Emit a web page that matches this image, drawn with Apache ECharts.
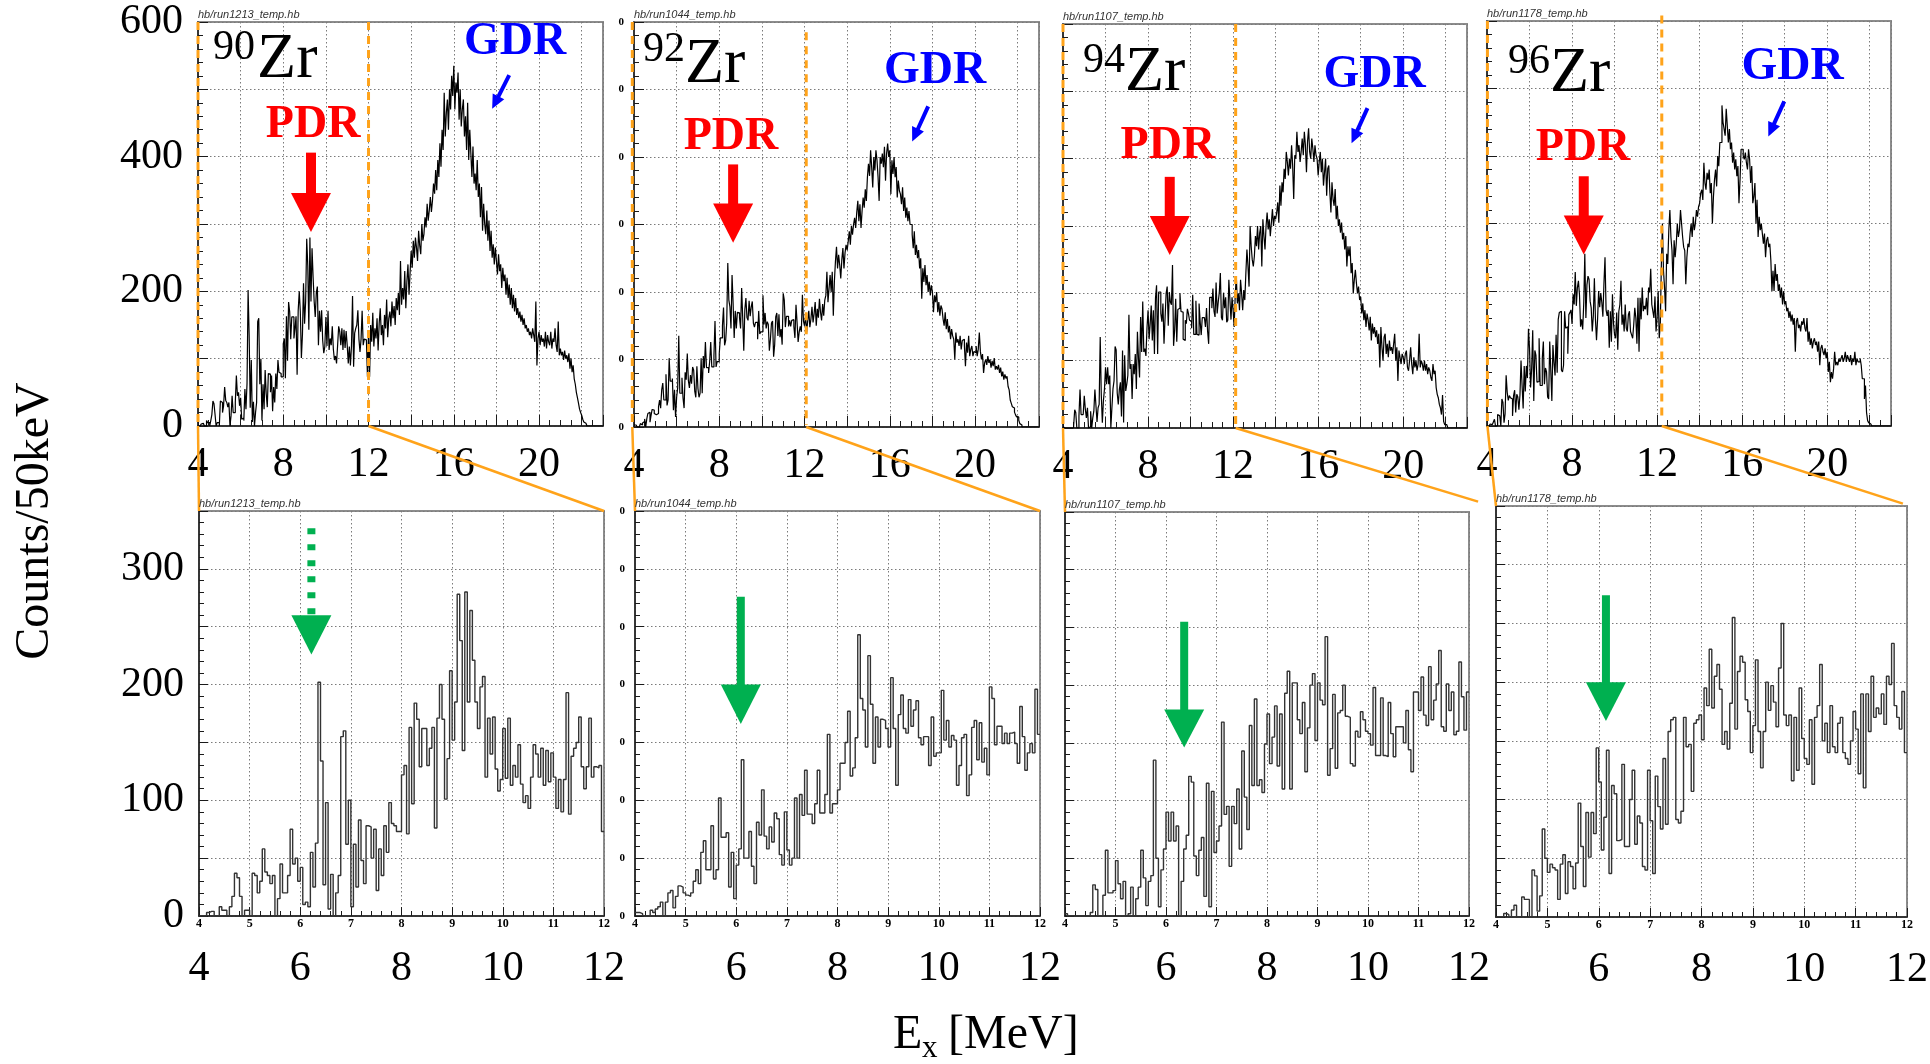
<!DOCTYPE html>
<html>
<head>
<meta charset="utf-8">
<title>Zr isotopes: E1 strength spectra</title>
<script src="https://cdn.jsdelivr.net/npm/echarts@6/dist/echarts.min.js"></script>
<style>
  html, body { margin: 0; padding: 0; background: #fff; }
  #chart { width: 1930px; height: 1064px; }
</style>
</head>
<body>
<div id="chart"></div>
<script>
// ---------------------------------------------------------------
// Spectra: counts per 50 keV bin, first bin starts at 4.00 MeV.
// "Low" arrays cover 4.00-11.95 MeV, "High" arrays 12.00-22.95 MeV.
// ---------------------------------------------------------------
const binStart = 4.0;
const binWidth = 0.05;

const isotopes = ['90', '92', '94', '96'];
const runFiles = ['hb/run1213_temp.hb', 'hb/run1044_temp.hb', 'hb/run1107_temp.hb', 'hb/run1178_temp.hb'];

const topXTickLabels = [4, 8, 12, 16, 20];
const topYTickLabels = [0, 200, 400, 600];
const lowXSmallLabels = [4, 5, 6, 7, 8, 9, 10, 11, 12];
const lowXBigLabelsFirst = [4, 6, 8, 10, 12];
const lowXBigLabels = [6, 8, 10, 12];
const lowYTickLabels = [0, 100, 200, 300];

const zr90Low = [
  0,0,0,3,4,4,0,0,8,5, 5,0,8,17,37,33,17,0,5,5,
  0,37,35,20,30,58,38,35,28,35, 0,15,45,20,20,35,75,45,50,30,
  42,10,12,8,55,25,63,202,134,27, 98,6,36,0,20,35,155,160,62,100,
  8,62,25,83,48,28,78,77,50,75, 22,58,35,78,55,98,80,78,73,73,
  122,130,71,163,97,184,170,129,162,162, 130,145,163,76,171,200,170,101,136,212,
  152,185,278,238,143,280,185,264,221,185, 162,198,207,120,171,140,172,127,108,118,
  162,119,171,113,130,120,148,114,98,104, 93,120,148,140,120,145,113,143,116,141,
  120,93,118,90,118,193,88,138,145,150, 172,129,110,129,171,120,129,128,130,73
];
const zr90High = [
  140,73,150,125,168,118,145,130,160,112, 152,175,135,150,120,165,145,188,132,160,
  170,148,185,160,178,150,190,172,198,165, 245,180,205,188,230,175,215,240,195,228,
  260,235,275,250,280,265,245,290,268,255, 300,275,285,310,295,330,305,320,340,318,
  335,360,345,380,350,395,370,420,385,440, 410,495,430,465,485,440,500,470,520,490,
  535,470,510,495,525,455,500,445,470,485, 430,460,410,480,395,440,405,370,415,360,
  375,350,395,340,360,310,355,290,330,300, 285,320,275,305,260,290,250,270,240,265,
  245,225,255,230,240,205,235,215,225,195, 220,190,210,180,205,175,195,170,190,165,
  175,160,170,155,165,150,160,145,150,140, 145,135,140,130,145,135,125,185,90,130,
  140,120,135,125,130,118,140,115,135,125, 120,140,115,130,125,145,120,110,155,105,
  115,105,110,98,112,100,105,95,108,85, 100,80,90,70,62,50,42,34,25,20,
  16,10,6,4,2,0,0,0,0,0, 0,0,0,0,0,0,0,0,0,0
];

const zr92Low = [
  3,3,2,0,0,0,5,3,6,8, 12,0,12,20,22,7,17,26,25,20,
  18,17,20,30,40,28,55,65,40,40, 78,32,40,102,68,68,72,25,55,15,
  44,58,135,50,50,73,43,28,81,70, 109,69,58,77,64,89,84,53,44,90,
  57,44,50,102,50,105,87,126,88,88, 80,97,126,89,89,105,157,89,97,97,
  109,132,132,150,177,121,128,154,243,188, 178,146,225,183,132,172,146,170,169,162,
  146,206,162,113,174,191,162,158,187,164, 178,186,154,148,155,155,130,172,138,141,
  141,195,152,169,146,156,152,113,130,154, 157,104,122,163,169,135,167,133,145,122,
  198,188,148,164,164,149,158,149,158,159, 149,132,181,155,126,141,149,141,196,157
];
const zr92High = [
  150,165,140,158,172,148,160,178,155,168, 185,150,175,162,190,170,158,182,165,188,
  195,230,185,205,225,200,230,165,215,245, 267,235,255,240,220,248,265,235,258,270,
  262,275,290,270,298,285,300,310,295,318, 335,305,330,295,320,340,325,352,335,370,
  390,372,410,385,355,400,380,410,395,370, 335,400,390,405,385,415,365,405,420,400,
  410,345,395,375,400,370,385,340,365,350, 345,330,355,320,340,310,325,305,320,300,
  300,285,265,290,255,270,250,262,235,250, 190,235,215,240,210,225,200,215,195,210,
  200,170,195,185,200,170,185,165,180,175, 160,150,170,145,160,140,150,130,145,135,
  130,100,140,125,130,120,135,115,128,130, 120,90,125,110,135,105,115,120,105,112,
  110,120,105,115,140,112,100,108,80,95, 100,92,105,95,100,88,98,90,102,85,
  90,85,92,80,88,75,82,70,78,72, 75,60,55,40,35,30,28,22,18,15,
  15,10,5,3,0,0,0,0,0,0, 0,0,0,0,0,0,0,0,0,0
];

const zr94Low = [
  2,0,0,0,0,0,0,0,0,0, 3,27,23,0,0,18,57,20,20,22,
  48,28,15,30,0,2,25,0,15,25, 57,33,9,30,35,135,50,8,40,58,
  90,65,90,65,78,0,30,58,70,121, 116,52,35,57,68,17,115,8,108,55,
  65,78,168,88,95,43,95,80,110,58, 143,103,75,165,113,188,113,118,107,149,
  175,132,155,182,130,175,110,193,212,110, 202,202,170,158,185,125,163,200,210,152,
  202,187,183,242,122,145,192,128,176,178, 200,173,172,132,130,160,155,177,170,160,
  158,148,198,139,139,189,139,138,185,158, 138,164,164,164,150,178,144,125,194,194,
  178,207,174,165,216,170,187,201,230,164, 160,201,178,194,157,160,220,190,161,194
];
const zr94High = [
  175,150,198,225,185,200,175,220,200,175, 205,190,230,265,240,210,300,270,250,240,
  255,285,270,300,265,290,300,240,310,285, 265,300,320,295,310,285,305,325,300,315,
  310,320,335,305,360,330,365,350,385,370, 410,395,375,400,385,420,390,340,405,400,
  440,410,420,395,410,430,405,440,420,380, 425,445,410,400,430,415,395,420,405,400,
  375,395,410,380,400,360,380,400,345,385, 390,350,320,365,340,330,355,310,330,300,
  310,290,305,280,290,265,285,240,270,255, 270,230,245,200,220,235,215,200,210,190,
  195,170,185,160,175,150,170,160,145,165, 130,155,140,150,135,145,125,140,90,150,
  120,100,135,140,110,125,105,130,115,120, 110,125,140,100,120,70,115,105,95,110,
  105,95,110,115,90,85,100,120,95,80, 105,90,100,85,95,140,90,100,95,85,
  100,85,95,80,90,85,75,70,95,80, 85,60,50,45,35,30,20,49,10,5,
  5,3,0,0,0,0,0,0,0,0, 0,0,0,0,0,0,0,0,0,0
];

const zr96Low = [
  0,0,0,3,2,0,6,10,0,0, 17,15,15,0,40,35,5,18,75,50,
  38,45,42,40,15,45,53,20,47,43, 24,46,97,60,26,89,51,89,71,144,
  115,57,85,142,37,112,105,65,66,130, 60,60,100,125,62,86,80,43,40,125,
  82,37,120,94,75,135,79,158,168,170, 83,80,90,170,145,147,107,165,168,172,
  151,195,180,228,178,205,215,194,147,158, 143,182,255,160,209,222,217,185,175,140,
  163,219,158,127,158,200,176,197,183,162, 212,250,172,163,172,116,170,125,195,152,
  135,130,168,113,170,180,215,150,165,140, 180,145,140,165,170,140,135,130,150,175,
  160,122,190,110,190,158,205,170,178,173, 190,164,205,198,233,180,170,160,192,140
];
const zr96High = [
  160,200,130,150,240,300,230,205,170,255, 240,290,320,280,260,210,275,250,270,300,
  280,290,320,300,280,265,260,210,250,270, 265,285,300,280,310,290,300,320,310,325,
  330,345,350,335,390,360,350,375,365,380, 345,360,300,340,365,380,355,400,385,420,
  420,475,450,440,430,470,445,420,440,410, 420,390,405,380,395,370,385,330,365,410,
  410,400,395,405,390,380,410,395,360,385, 330,340,360,300,335,280,310,290,300,285,
  270,285,250,275,280,265,270,245,200,230, 200,240,215,225,200,210,190,205,180,200,
  180,185,170,175,160,170,155,165,150,160, 110,155,160,145,150,140,155,150,160,145,
  140,160,125,140,120,130,115,125,130,120, 125,110,125,90,115,120,110,105,115,100,
  110,80,95,65,80,70,85,110,90,95, 90,100,95,100,105,95,100,110,95,105,
  100,95,105,90,100,95,110,90,100,95, 95,100,90,70,70,40,60,20,8,5,
  3,2,0,0,0,0,0,0,0,0, 0,0,0,0,0,0,0,0,0,0
];

const lowSpectra = [zr90Low, zr92Low, zr94Low, zr96Low];
const highSpectra = [zr90High, zr92High, zr94High, zr96High];

// ---------------------------------------------------------------
// Layout and styling
// ---------------------------------------------------------------
const serif = 'Liberation Serif';
const sans = 'Liberation Sans';
const ink = '#1a1a1a';
const gridInk = '#7a7a7a';
const orange = '#ffa31a';
const red = '#ff0000';
const blue = '#0000ff';
const green = '#00b050';

const topBoxes = [
  { left: 198, top: 22, width: 405, height: 404 },
  { left: 634, top: 22, width: 405, height: 405 },
  { left: 1063, top: 24, width: 404, height: 404 },
  { left: 1487, top: 21, width: 404, height: 405 }
];
const lowBoxes = [
  { left: 199, top: 511, width: 405, height: 405 },
  { left: 635, top: 511, width: 405, height: 405 },
  { left: 1065, top: 512, width: 404, height: 404 },
  { left: 1496, top: 506, width: 411, height: 411 }
];

// annotation anchors, in each panel's data coordinates (MeV, counts)
const topNotes = [
  { mass: [4.70, 562], sym: [6.77, 543], pdr: [9.40, 447], redX: 9.30, red: [406, 346, 288], gdr: [18.88, 570], blue: [[18.60, 521], [17.80, 471]] },
  { mass: [4.42, 558], sym: [6.39, 536], pdr: [8.55, 430], redX: 8.65, red: [389, 331, 273], gdr: [18.13, 527], blue: [[17.80, 475], [17.05, 423]] },
  { mass: [4.94, 545], sym: [6.91, 527], pdr: [8.93, 418], redX: 9.02, red: [373, 315, 257], gdr: [18.65, 524], blue: [[18.32, 475], [17.57, 423]] },
  { mass: [4.99, 540], sym: [6.96, 521], pdr: [8.51, 412], redX: 8.55, red: [370, 312, 254], gdr: [18.37, 531], blue: [[17.98, 481], [17.23, 429]] }
];
const lowNotes = [
  { x: 6.22, arrow: [335, 260, 226], dotted: true },
  { x: 6.09, arrow: [276, 200, 166] },
  { x: 6.36, arrow: [255, 179, 146] },
  { x: 6.14, arrow: [274, 200, 167] }
];
// zoom window guides: dashed edges in the upper panel, solid joins to the lower one
const guides = [
  { leftX: 4.00, cutX: 12.00, cutFrom: 600, cutTo: 6, joinEnd: [12.00, 350] },
  { leftX: 3.92, cutX: 12.08, cutFrom: 585, cutTo: 3, joinEnd: [12.00, 350] },
  { leftX: 4.00, cutX: 12.12, cutFrom: 600, cutTo: 0, joinEnd: [12.18, 359] },
  { leftX: 4.02, cutX: 12.22, cutFrom: 608, cutTo: 13, joinEnd: [11.92, 352] }
];

function asBins(values) {
  const pts = values.map((v, k) => [+(binStart + k * binWidth).toFixed(2), v]);
  const last = binStart + values.length * binWidth;
  pts.push([+last.toFixed(2), values[values.length - 1]]);
  return pts;
}

const dottedGrid = { show: true, lineStyle: { color: gridInk, width: 1, type: [1.5, 2.5] } };

function frame(box) {
  return Object.assign({
    show: true, borderColor: '#8c8c8c', borderWidth: 2,
    backgroundColor: 'rgba(0,0,0,0)', containLabel: false, outerBoundsMode: 'none'
  }, box);
}

function keep(list) {
  return v => (list.indexOf(Math.round(v * 100) / 100) >= 0 ? String(Math.round(v)) : '');
}

function bigLabel(margin, formatter) {
  return { show: true, margin, color: '#000', fontFamily: serif, fontSize: 42,
           hideOverlap: false, showMinLabel: true, showMaxLabel: true, formatter };
}
function stubLabel(margin) {
  // clipped remnants of the original axis numbers
  return { show: true, margin, color: '#000', fontFamily: serif, fontSize: 11, fontWeight: 'bold',
           hideOverlap: false, showMinLabel: true, showMaxLabel: true, formatter: () => '0' };
}

const grids = [], xAxes = [], yAxes = [], series = [];

for (let i = 0; i < 4; i++) grids.push(frame(topBoxes[i]));
for (let i = 0; i < 4; i++) grids.push(frame(lowBoxes[i]));

// upper panels: 4-23 MeV, 0-600 counts
for (let i = 0; i < 4; i++) {
  xAxes.push({
    type: 'value', gridIndex: i, position: 'bottom', min: 4, max: 23, interval: 2,
    axisLine: { show: true, onZero: false, lineStyle: { color: ink, width: 1.5 } },
    axisTick: { show: true, inside: true, length: 11, lineStyle: { color: ink, width: 1 } },
    minorTick: { show: true, splitNumber: 4, length: 6, lineStyle: { color: ink, width: 1 } },
    splitLine: dottedGrid,
    axisLabel: bigLabel(18, keep(topXTickLabels))
  });
  yAxes.push({
    type: 'value', gridIndex: i, position: 'left', min: 0, max: 600, interval: 100,
    axisLine: { show: true, onZero: false, lineStyle: { color: ink, width: 1.5 } },
    axisTick: { show: true, inside: true, length: 10, lineStyle: { color: ink, width: 1 } },
    minorTick: { show: true, splitNumber: 5, length: 5, lineStyle: { color: ink, width: 1 } },
    splitLine: dottedGrid,
    axisLabel: i === 0 ? bigLabel(15, keep(topYTickLabels)) : (i === 1 ? stubLabel(10) : { show: false })
  });
}
// lower panels: 4-12 MeV, 0-350 counts
for (let i = 0; i < 4; i++) {
  xAxes.push({
    type: 'value', gridIndex: 4 + i, position: 'bottom', min: 4, max: 12, interval: 1,
    axisLine: { show: true, onZero: false, lineStyle: { color: ink, width: 1.5 } },
    axisTick: { show: true, inside: true, length: 9, lineStyle: { color: ink, width: 1 } },
    minorTick: { show: true, splitNumber: 5, length: 5, lineStyle: { color: ink, width: 1 } },
    splitLine: dottedGrid,
    axisLabel: { show: true, margin: 2, color: '#000', fontFamily: serif, fontSize: 12, fontWeight: 'bold',
                 hideOverlap: false, showMinLabel: true, showMaxLabel: true, formatter: keep(lowXSmallLabels) }
  });
  yAxes.push({
    type: 'value', gridIndex: 4 + i, position: 'left', min: 0, max: 350, interval: 50,
    axisLine: { show: true, onZero: false, lineStyle: { color: ink, width: 1.5 } },
    axisTick: { show: true, inside: true, length: 9, lineStyle: { color: ink, width: 1 } },
    minorTick: { show: true, splitNumber: 5, length: 5, lineStyle: { color: ink, width: 1 } },
    splitLine: dottedGrid,
    axisLabel: i === 0 ? bigLabel(15, keep(lowYTickLabels)) : (i === 1 ? stubLabel(10) : { show: false })
  });
}
// large energy labels under the lower panels (a second, line-less bottom axis)
for (let i = 0; i < 4; i++) {
  xAxes.push({
    type: 'value', gridIndex: 4 + i, position: 'bottom', offset: 0, min: 4, max: 12, interval: 2,
    axisLine: { show: false, onZero: false }, axisTick: { show: false }, minorTick: { show: false },
    splitLine: { show: false },
    axisLabel: bigLabel(32, keep(i === 0 ? lowXBigLabelsFirst : lowXBigLabels))
  });
}

for (let i = 0; i < 4; i++) {
  series.push({
    type: 'line', xAxisIndex: i, yAxisIndex: i, step: 'end', symbol: 'none', silent: true,
    data: asBins(lowSpectra[i].concat(highSpectra[i])),
    lineStyle: { color: '#000', width: 1.2 }, clip: true
  });
  series.push({
    type: 'line', xAxisIndex: 4 + i, yAxisIndex: 4 + i, step: 'end', symbol: 'none', silent: true,
    data: asBins(lowSpectra[i]),
    lineStyle: { color: '#333', width: 1.4 }, clip: true
  });
}

const chart = echarts.init(document.getElementById('chart'), null, { renderer: 'canvas' });
chart.setOption({ animation: false, backgroundColor: '#fff', grid: grids, xAxis: xAxes, yAxis: yAxes, series });

// ---------------------------------------------------------------
// Annotations
// ---------------------------------------------------------------
const els = [];
const topPx = (i, p) => chart.convertToPixel({ xAxisIndex: i, yAxisIndex: i }, p);
const lowPx = (i, p) => chart.convertToPixel({ xAxisIndex: 4 + i, yAxisIndex: 4 + i }, p);

function label(x, y, str, size, opt) {
  opt = opt || {};
  const align = opt.align || 'left';
  els.push({
    type: 'text', z: 60, x, y, rotation: opt.rotation || 0,
    style: {
      text: str, fill: opt.fill || '#000', fontFamily: opt.family || serif, fontSize: size,
      fontWeight: opt.weight || 'normal', fontStyle: opt.style || 'normal',
      align, textAlign: align, verticalAlign: 'middle', textVerticalAlign: 'middle'
    }
  });
}
function line(a, b, color, width, dash) {
  els.push({
    type: 'line', z: 55, shape: { x1: a[0], y1: a[1], x2: b[0], y2: b[1] },
    style: { stroke: color, lineWidth: width, lineDash: dash || null, lineCap: 'butt' }
  });
}
function poly(points, color) {
  els.push({ type: 'polygon', z: 60, shape: { points }, style: { fill: color } });
}
// vertical block arrow: shaft from top to base, triangular head from base to tip
function blockArrow(x, top, base, tip, shaftW, headW, color, dotted) {
  if (dotted) {
    line([x, top], [x, base + 2], color, shaftW, [6, 10]);
  } else {
    poly([[x - shaftW / 2, top], [x + shaftW / 2, top], [x + shaftW / 2, base + 1], [x - shaftW / 2, base + 1]], color);
  }
  poly([[x - headW / 2, base], [x + headW / 2, base], [x, tip]], color);
}
function slimArrow(from, to, color) {
  const dx = to[0] - from[0], dy = to[1] - from[1];
  const len = Math.hypot(dx, dy), ux = dx / len, uy = dy / len, nx = -uy, ny = ux;
  const hb = [to[0] - ux * 14, to[1] - uy * 14];
  const w = 2, hw = 6.5;
  poly([
    [from[0] + nx * w, from[1] + ny * w], [hb[0] + nx * w, hb[1] + ny * w], [hb[0] + nx * hw, hb[1] + ny * hw],
    to, [hb[0] - nx * hw, hb[1] - ny * hw], [hb[0] - nx * w, hb[1] - ny * w], [from[0] - nx * w, from[1] - ny * w]
  ], color);
}

for (let i = 0; i < 4; i++) {
  const n = topNotes[i];
  // run file captions above each frame
  const tl = topPx(i, [4, 600]);
  label(tl[0], tl[1] - 7, runFiles[i], 11, { family: sans, style: 'italic', fill: '#333' });
  const ll = lowPx(i, [4, 350]);
  label(ll[0], ll[1] - 7, runFiles[i], 11, { family: sans, style: 'italic', fill: '#333' });

  // isotope symbol
  const m = topPx(i, n.mass);
  label(m[0], m[1], isotopes[i], 42);
  const s = topPx(i, n.sym);
  label(s[0], s[1], 'Zr', 64);

  // PDR marker
  const p = topPx(i, n.pdr);
  label(p[0], p[1], 'PDR', 46, { weight: 'bold', fill: red, align: 'center' });
  const rt = topPx(i, [n.redX, n.red[0]]), rb = topPx(i, [n.redX, n.red[1]]), rp = topPx(i, [n.redX, n.red[2]]);
  blockArrow(rt[0], rt[1], rb[1], rp[1], 10, 40, red, false);

  // GDR marker
  const g = topPx(i, n.gdr);
  label(g[0], g[1], 'GDR', 46, { weight: 'bold', fill: blue, align: 'center' });
  slimArrow(topPx(i, n.blue[0]), topPx(i, n.blue[1]), blue);

  // green markers in the lower panels
  const q = lowNotes[i];
  const gt = lowPx(i, [q.x, q.arrow[0]]), gb = lowPx(i, [q.x, q.arrow[1]]), gp = lowPx(i, [q.x, q.arrow[2]]);
  blockArrow(gt[0], gt[1], gb[1], gp[1], 8, 40, green, !!q.dotted);

  // zoom window guides
  const gd = guides[i];
  line(topPx(i, [gd.leftX, 600]), topPx(i, [gd.leftX, 0]), orange, 3, [8, 6]);
  line(topPx(i, [gd.cutX, gd.cutFrom]), topPx(i, [gd.cutX, gd.cutTo]), orange, 3, [8, 6]);
  line(topPx(i, [gd.leftX, 0]), lowPx(i, [4, 350]), orange, 2.5);
  line(topPx(i, [gd.cutX, 0]), lowPx(i, gd.joinEnd), orange, 2.5);
}

// axis titles
label(35, 521, 'Counts/50keV', 48, { align: 'center', rotation: Math.PI / 2 });
label(893, 1035, 'E', 48);
label(922, 1049, 'x', 31);
label(948, 1035, '[MeV]', 48);

chart.setOption({ graphic: { elements: els } });
</script>
</body>
</html>
